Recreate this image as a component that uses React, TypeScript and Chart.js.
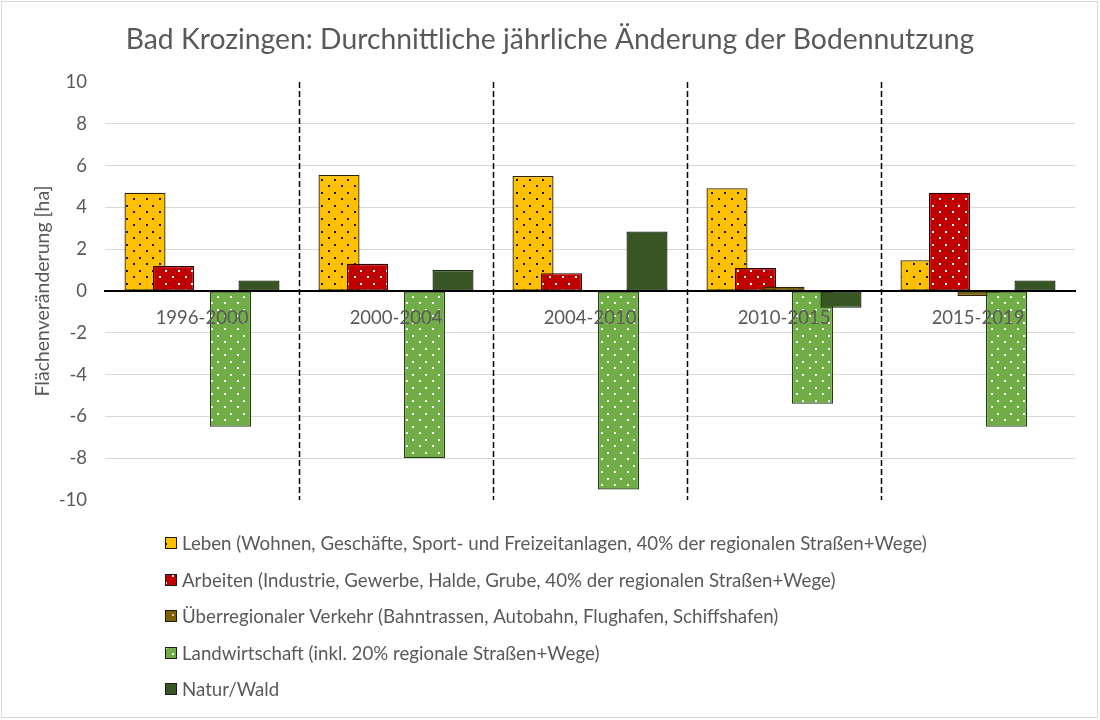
import React, { useEffect, useRef } from 'react';
import { Chart, registerables } from 'chart.js';

Chart.register(...registerables);

const chartTitle = 'Bad Krozingen: Durchnittliche jährliche Änderung der Bodennutzung';
const yAxisTitle = 'Flächenveränderung [ha]';
const categories = ['1996-2000', '2000-2004', '2004-2010', '2010-2015', '2015-2019'];
const seriesNames = [
  'Leben (Wohnen, Geschäfte, Sport- und Freizeitanlagen, 40% der regionalen Straßen+Wege)',
  'Arbeiten (Industrie, Gewerbe, Halde, Grube, 40% der regionalen Straßen+Wege)',
  'Überregionaler Verkehr (Bahntrassen, Autobahn, Flughafen, Schiffshafen)',
  'Landwirtschaft (inkl. 20% regionale Straßen+Wege)',
  'Natur/Wald',
];
const leben = [4.7, 5.55, 5.5, 4.92, 1.47];
const arbeiten = [1.2, 1.3, 0.85, 1.1, 4.7];
const verkehr = [0, 0, 0, 0.2, -0.24];
const landwirtschaft = [-6.5, -8.0, -9.5, -5.4, -6.5];
const natur = [0.5, 1.0, 2.85, -0.8, 0.5];
const yMin = -10;
const yMax = 10;
const yStep = 2;

const fillColors = ['#FFC000', '#C00000', '#7F6000', '#70AD47', '#375623'];
const dotColors = ['#1a1a1a', '#ffffff', '#d9c9a0', '#ffffff', null];
const borderColors = ['#2e2300', '#300000', '#2e2300', '#243f14', '#18260f'];

const FONT = 'Lato, Carlito, Calibri, "Open Sans", sans-serif';
const TEXT = '#595959';

function dotPattern(ctx: CanvasRenderingContext2D, bg: string, dot: string | null) {
  if (!dot) return bg;
  const c = document.createElement('canvas');
  c.width = 13;
  c.height = 13;
  const g = c.getContext('2d')!;
  g.fillStyle = bg;
  g.fillRect(0, 0, 13, 13);
  g.fillStyle = dot;
  g.fillRect(3, 3, 2, 2);
  g.fillRect(9, 10, 2, 2);
  return ctx.createPattern(c, 'repeat') || bg;
}

export default function App() {
  const ref = useRef<HTMLCanvasElement | null>(null);

  useEffect(() => {
    document.body.style.margin = '0';
    const canvas = ref.current!;
    const ctx = canvas.getContext('2d')!;
    const values = [leben, arbeiten, verkehr, landwirtschaft, natur];

    const datasets = values.map((v, i) => ({
      label: seriesNames[i],
      data: v,
      backgroundColor: dotPattern(ctx, fillColors[i], dotColors[i]),
      borderColor: borderColors[i],
      borderWidth: 1.3,
      borderSkipped: false as const,
      categoryPercentage: 0.7345,
      barPercentage: 1.44,
    }));

    const orderPlugin = {
      id: 'orderDraw',
      beforeDatasetsDraw(chart: any) {
        const metas = chart.getSortedVisibleDatasetMetas();
        for (let i = 0; i < metas.length; i++) {
          metas[i].controller.draw();
        }
        return false;
      },
    };

    const decoPlugin = {
      id: 'deco',
      afterDraw(chart: any) {
        const c = chart.ctx;
        const area = chart.chartArea;
        const xs = chart.scales.x;
        c.save();
        // title centred on the whole canvas
        c.font = `28.3px ${FONT}`;
        c.fillStyle = TEXT;
        c.textAlign = 'center';
        c.textBaseline = 'middle';
        c.fillText(chartTitle, chart.width / 2, 40);
        // dashed separators between categories
        c.strokeStyle = '#000';
        c.lineWidth = 1.5;
        c.setLineDash([6, 3]);
        for (let i = 1; i < categories.length; i++) {
          const x = Math.round((xs.getPixelForValue(i - 1) + xs.getPixelForValue(i)) / 2) + 0.5;
          c.beginPath();
          c.moveTo(x, area.top);
          c.lineTo(x, area.bottom);
          c.stroke();
        }
        c.setLineDash([]);
        // legend
        const lx = area.left + 60;
        const ly0 = area.bottom + 43;
        c.font = `18.7px ${FONT}`;
        c.textBaseline = 'middle';
        c.textAlign = 'left';
        chart.data.datasets.forEach((ds: any, i: number) => {
          const y = Math.round(ly0 + i * 36.5);
          c.fillStyle = ds.backgroundColor;
          c.fillRect(lx, y - 6, 12, 12);
          c.strokeStyle = '#1a1a1a';
          c.lineWidth = 1;
          c.strokeRect(lx + 0.5, y - 5.5, 11, 11);
          c.fillStyle = TEXT;
          c.fillText(ds.label, lx + 17, y + 1);
        });
        // outer border
        c.strokeStyle = '#d9d9d9';
        c.lineWidth = 1;
        c.strokeRect(1.5, 1.5, 1096, 716);
        c.restore();
      },
    };

    const chart = new Chart(ctx, {
      type: 'bar',
      data: { labels: categories, datasets },
      options: {
        responsive: false,
        animation: false,
        devicePixelRatio: 1,
        layout: { padding: { left: 0, right: 25, top: 82, bottom: 220 } },
        plugins: {
          legend: { display: false },
          tooltip: { enabled: false },
          title: { display: false },
        },
        scales: {
          x: {
            type: 'category',
            position: { y: 0 } as any,
            grid: { display: false },
            border: { display: true, color: '#000', width: 2, z: 2 } as any,
            ticks: { color: TEXT, font: { family: FONT, size: 18.5 }, padding: 8, z: 1 },
          },
          y: {
            min: yMin,
            max: yMax,
            ticks: {
              stepSize: yStep,
              color: TEXT,
              font: { family: FONT, size: 18.5 },
              padding: 18,
            },
            border: { display: false },
            grid: {
              drawTicks: false,
              color: (c: any) => {
                const v = c.tick ? c.tick.value : 0;
                if (v === 0 || v === yMin || v === yMax) return 'rgba(0,0,0,0)';
                return '#d9d9d9';
              },
              lineWidth: 1,
            },
            title: {
              display: true,
              text: yAxisTitle,
              color: TEXT,
              font: { family: FONT, size: 19.5 },
              padding: { top: 31, bottom: 0 },
            },
            afterFit(scale: any) {
              scale.width = 105;
            },
          },
        },
      },
      plugins: [orderPlugin, decoPlugin],
    });

    return () => chart.destroy();
  }, []);

  return (
    <div style={{ width: 1100, height: 720, background: '#fff' }}>
      <canvas ref={ref} width={1100} height={720} style={{ display: 'block' }} />
    </div>
  );
}
